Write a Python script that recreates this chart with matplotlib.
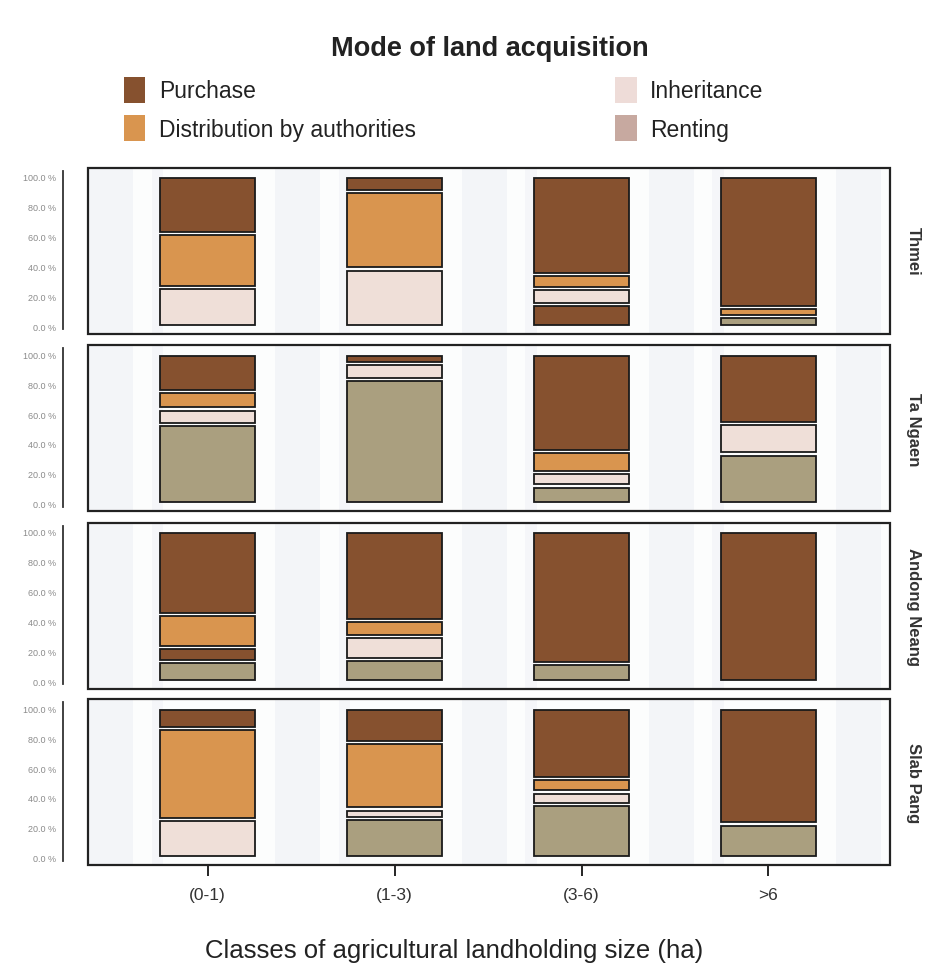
import numpy as np
import matplotlib
matplotlib.use("Agg")
import matplotlib.pyplot as plt
from matplotlib.patches import Patch, Rectangle

plt.rcParams["font.family"] = ["Liberation Sans", "DejaVu Sans"]

# landholding classes and villages (facets)
classes = ["(0-1)", "(1-3)", "(3-6)", ">6"]
villages = ["Thmei", "Ta Ngaen", "Andong Neang", "Slab Pang"]

# shares (%) per village, one value per class
purchase = [
    [37.8, 10.1, 65.6, 87.6],
    [24.7, 6.1, 65.2, 46.1],
    [55.4, 59.4, 88.0, 100.0],
    [13.3, 23.0, 47.1, 77.4],
]
distribution = [
    [36.4, 51.7, 9.4, 6.1],
    [11.9, 0.0, 13.9, 0.0],
    [22.1, 10.6, 0.0, 0.0],
    [61.0, 44.4, 9.0, 0.0],
]
inheritance = [
    [25.8, 38.2, 10.3, 0.0],
    [10.6, 10.8, 9.0, 20.7],
    [0.0, 15.3, 0.0, 0.0],
    [25.7, 6.3, 8.1, 0.0],
]
other = [
    [0.0, 0.0, 14.7, 0.0],
    [0.0, 0.0, 0.0, 0.0],
    [9.4, 0.0, 0.0, 0.0],
    [0.0, 0.0, 0.0, 0.0],
]
renting = [
    [0.0, 0.0, 0.0, 6.3],
    [52.8, 83.1, 11.9, 33.2],
    [13.1, 14.7, 12.0, 0.0],
    [0.0, 26.3, 35.8, 22.6],
]

yticks = [0, 20, 40, 60, 80, 100]

c_purchase = "#86512F"
c_distrib = "#D9954F"
c_inherit = "#EFDFD8"
c_renting = "#AA9F7F"
c_legend_inherit = "#EEDCD8"
c_legend_renting = "#C7A9A0"

fig = plt.figure(figsize=(9.27, 9.70), dpi=100)
fig.patch.set_facecolor("white")

bottoms = [0.655, 0.472, 0.289, 0.107]
x = np.arange(len(classes))
gap = 1.1

for i, vil in enumerate(villages):
    ax = fig.add_axes([0.095, bottoms[i], 0.865, 0.171])
    ax.set_facecolor("#FCFDFD")
    # faint vertical banding in the panel background
    for c in [-0.5, 0.5, 1.5, 2.5, 3.5]:
        ax.axvspan(c - 0.14, c + 0.1, color="#F3F5F8", lw=0, zorder=0)
        ax.axvspan(c + 0.2, c + 0.26, color="#F5F6F9", lw=0, zorder=0)

    stack = [
        (renting[i], c_renting),
        (other[i], c_purchase),
        (inheritance[i], c_inherit),
        (distribution[i], c_distrib),
        (purchase[i], c_purchase),
    ]
    base = np.zeros(len(classes))
    for vals, col in stack:
        vals = np.array(vals)
        for j in range(len(classes)):
            if vals[j] <= 0:
                continue
            ax.bar(x[j], vals[j] - 2 * gap, bottom=base[j] + gap, width=0.51,
                   color=col, edgecolor="#1a1a1a", linewidth=1.3, zorder=3)
        base += vals

    ax.set_xlim(-0.64, 3.65)
    ax.set_ylim(-5, 106)

    # panel frame
    ax.add_patch(Rectangle((0, 0), 1, 1, transform=ax.transAxes, fill=False,
                           edgecolor="#222222", linewidth=1.6, zorder=5,
                           clip_on=False))
    for s in ["top", "right", "bottom"]:
        ax.spines[s].set_visible(False)
    ax.spines["left"].set_position(("outward", 18))
    ax.spines["left"].set_bounds(-2, 104)
    ax.spines["left"].set_linewidth(1.3)
    ax.spines["left"].set_color("#333333")

    ax.set_yticks(yticks)
    ax.set_yticklabels([f"{v:.1f} %" for v in yticks], fontsize=6.5,
                       color="#8a8a8a")
    ax.tick_params(axis="y", length=0, pad=5)

    if i == len(villages) - 1:
        ax.set_xticks(x)
        ax.set_xticklabels(classes, fontsize=12.5, color="#333333")
        ax.tick_params(axis="x", length=8, width=1.2, pad=8, direction="out")
    else:
        ax.set_xticks([])

    ax.text(1.02, 0.5, vil, transform=ax.transAxes, rotation=270,
            ha="left", va="center", fontsize=12, fontweight="bold",
            color="#333333")

fig.text(0.528, 0.95, "Mode of land acquisition", ha="center", va="center",
         fontsize=19.5, fontweight="bold", color="#222222")

fig.text(0.49, 0.02, "Classes of agricultural landholding size (ha)",
         ha="center", va="center", fontsize=18.5, color="#222222")

left_handles = [Patch(facecolor=c_purchase, edgecolor="none"),
                Patch(facecolor=c_distrib, edgecolor="none")]
right_handles = [Patch(facecolor=c_legend_inherit, edgecolor="none"),
                 Patch(facecolor=c_legend_renting, edgecolor="none")]

fig.legend(left_handles, ["Purchase", "Distribution by authorities"],
           loc="upper left", bbox_to_anchor=(0.111, 0.941), frameon=False,
           fontsize=16.5, handlelength=0.95, handleheight=1.35,
           handletextpad=0.6, labelspacing=0.55, labelcolor="#222222")
fig.legend(right_handles, ["Inheritance", "Renting"],
           loc="upper left", bbox_to_anchor=(0.641, 0.941), frameon=False,
           fontsize=16.5, handlelength=0.95, handleheight=1.35,
           handletextpad=0.6, labelspacing=0.55, labelcolor="#222222")

fig.savefig("out.png", dpi=100, facecolor="white")
